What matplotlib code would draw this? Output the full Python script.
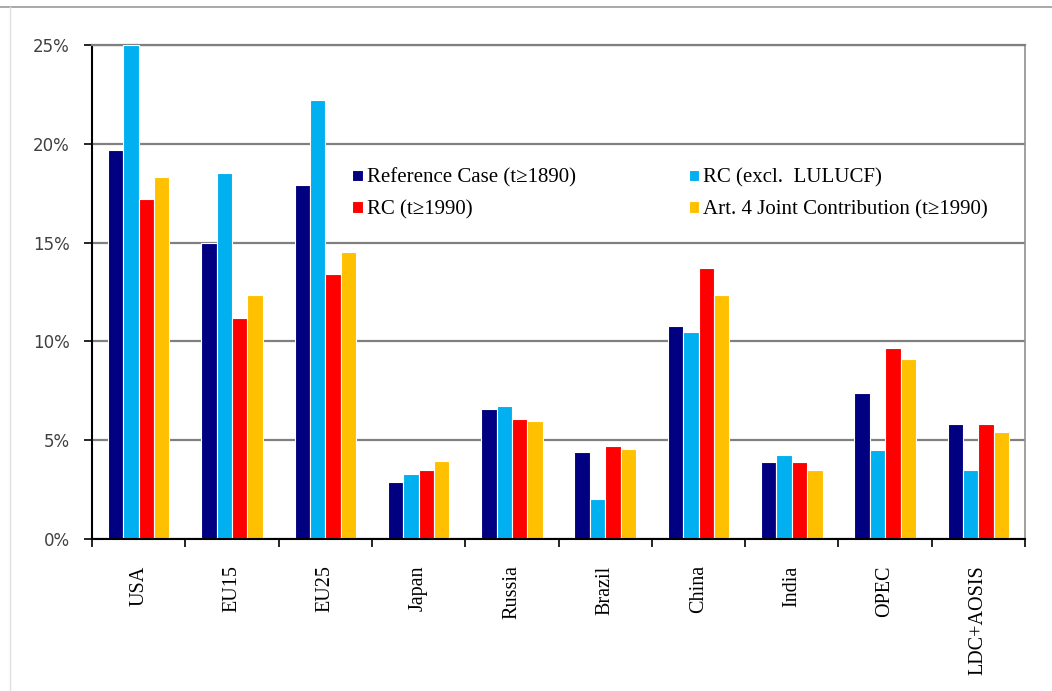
import matplotlib.pyplot as plt
import numpy as np
from matplotlib.lines import Line2D
from matplotlib.ticker import FuncFormatter

regions = ["USA", "EU15", "EU25", "Japan", "Russia",
           "Brazil", "China", "India", "OPEC", "LDC+AOSIS"]

ref_case = [19.7, 15.0, 17.9, 2.9, 6.6, 4.4, 10.8, 3.9, 7.4, 5.8]
rc_excl_lulucf = [25.0, 18.5, 22.2, 3.3, 6.75, 2.0, 10.5, 4.25, 4.5, 3.5]
rc_1990 = [17.2, 11.2, 13.4, 3.5, 6.05, 4.7, 13.7, 3.9, 9.65, 5.8]
art4_joint = [18.3, 12.35, 14.5, 3.95, 5.95, 4.55, 12.35, 3.5, 9.1, 5.4]

series = [
    ("Reference Case (t\u22651890)", ref_case, "#000080"),
    ("RC (excl.  LULUCF)", rc_excl_lulucf, "#00B0F0"),
    ("RC (t\u22651990)", rc_1990, "#FF0000"),
    ("Art. 4 Joint Contribution (t\u22651990)", art4_joint, "#FFC000"),
]

fig = plt.figure(figsize=(10.52, 6.91), dpi=100)
ax = fig.add_axes([0.0875, 0.22, 0.8869, 0.7149])

x = np.arange(len(regions))
w = 0.165
offsets = [-1.5 * w, -0.5 * w, 0.5 * w, 1.5 * w]
bars = {}
for (label, vals, col), off in zip(series, offsets):
    bars[label] = ax.bar(x + off, vals, width=w, color=col, edgecolor="white",
                         linewidth=0.8, label=label, zorder=3)

ax.set_xlim(-0.5, len(regions) - 0.5)
ax.set_ylim(0, 25)
ax.set_yticks([0, 5, 10, 15, 20, 25])
ax.yaxis.set_major_formatter(FuncFormatter(lambda v, p: f"{v:.0f}%"))
ax.grid(axis="y", color="#808080", linewidth=1.6, zorder=1)

ax.set_xticks(x)
ax.set_xticklabels(regions, rotation=90, fontfamily="Liberation Serif",
                   fontsize=14.5, va="top")
ax.set_xticks(np.arange(-0.5, len(regions)), minor=True)
ax.tick_params(axis="x", which="major", length=0, pad=19)
ax.tick_params(axis="x", which="minor", length=6, width=1.2, direction="out")
ax.tick_params(axis="y", length=6, width=1.2, direction="out",
               labelsize=12, labelcolor="#404040", pad=10)
for t in ax.get_yticklabels():
    t.set_fontfamily("DejaVu Sans")

ax.spines["left"].set_color("black")
ax.spines["left"].set_linewidth(1.5)
ax.spines["bottom"].set_color("black")
ax.spines["bottom"].set_linewidth(1.5)
ax.spines["bottom"].set_zorder(4)
ax.spines["top"].set_color("#808080")
ax.spines["top"].set_linewidth(1.6)
ax.spines["right"].set_color("#909090")
ax.spines["right"].set_linewidth(1.2)

order = [0, 2, 1, 3]
handles = [bars[series[i][0]] for i in order]
labels = [series[i][0] for i in order]
ax.legend(handles, labels, ncol=2, frameon=False, loc="upper left",
          bbox_to_anchor=(0.259, 0.788), prop={"family": "Liberation Serif", "size": 15},
          handlelength=0.5, handleheight=0.5, handletextpad=0.2,
          columnspacing=5.4, labelspacing=0.6)

# outer chart frame
fig.add_artist(Line2D([0, 1], [1 - 7 / 691, 1 - 7 / 691], color="#999999", linewidth=1.2))
fig.add_artist(Line2D([10 / 1052, 10 / 1052], [0, 1 - 7 / 691], color="#e0e0e0", linewidth=1.0))

fig.savefig("out.png", dpi=100, facecolor="white")
